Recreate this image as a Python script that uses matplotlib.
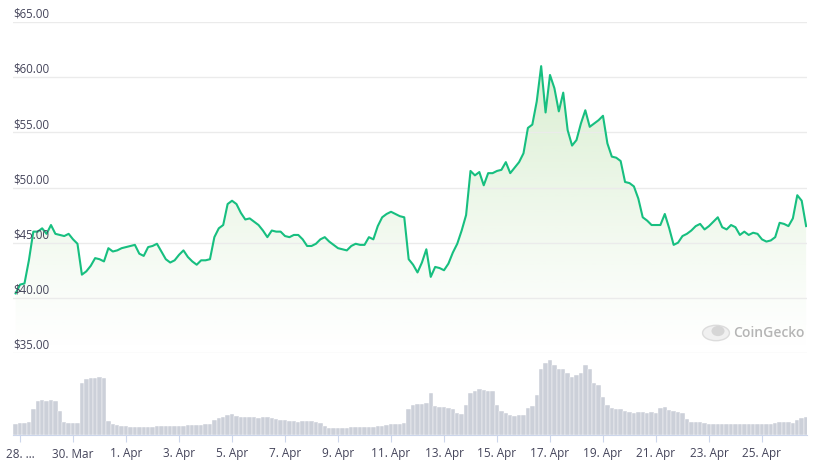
import numpy as np
import pandas as pd
import matplotlib
matplotlib.use("Agg")
import matplotlib.pyplot as plt
import matplotlib.dates as mdates
from matplotlib.patches import PathPatch, Circle, Ellipse

# 4-hourly price (USD) and volume, 27 Mar 20:00 -> 26 Apr 16:00
start = "2024-03-27 20:00"
price = [
    40.4, 41.2, 41.3, 43.4, 46.0, 46.0, 46.3, 45.8, 46.6, 45.8,
    45.7, 45.6, 45.8, 45.3, 44.9, 42.1, 42.4, 42.9, 43.6, 43.5,
    43.3, 44.5, 44.2, 44.3, 44.5, 44.6, 44.7, 44.8, 44.0, 43.8,
    44.6, 44.7, 44.9, 44.2, 43.5, 43.2, 43.4, 43.9, 44.3, 43.7,
    43.3, 43.0, 43.4, 43.4, 43.5, 45.5, 46.3, 46.6, 48.5, 48.8,
    48.5, 47.7, 47.1, 47.2, 46.9, 46.6, 46.1, 45.5, 46.1, 46.0,
    46.0, 45.6, 45.5, 45.7, 45.7, 45.3, 44.7, 44.7, 44.9, 45.3,
    45.5, 45.1, 44.8, 44.5, 44.4, 44.3, 44.7, 44.9, 44.8, 44.8,
    45.5, 45.3, 46.5, 47.3, 47.6, 47.8, 47.6, 47.4, 47.3, 43.5,
    43.0, 42.3, 43.2, 44.4, 41.9, 42.8, 42.7, 42.5, 43.1, 44.1,
    44.9, 46.1, 47.5, 51.5, 51.1, 51.4, 50.2, 51.3, 51.3, 51.5,
    51.6, 52.3, 51.3, 51.8, 52.3, 53.1, 55.4, 55.7, 57.8, 61.0,
    56.8, 60.2, 59.0, 56.9, 58.6, 55.2, 53.8, 54.3, 55.8, 57.0,
    55.5, 55.8, 56.1, 56.5, 54.0, 52.8, 52.7, 52.4, 50.5, 50.4,
    50.1, 49.0, 47.3, 47.0, 46.6, 46.6, 46.6, 47.6, 46.3, 44.8,
    45.0, 45.6, 45.8, 46.1, 46.5, 46.7, 46.2, 46.5, 46.9, 47.3,
    46.4, 46.2, 46.6, 46.4, 45.7, 46.0, 45.7, 45.9, 45.8, 45.3,
    45.1, 45.2, 45.5, 46.8, 46.7, 46.5, 47.2, 49.3, 48.8, 46.5,
]
volume = [
    11, 12, 12, 13, 26, 34, 35, 34, 35, 34,
    24, 13, 12, 12, 12, 52, 56, 57, 57, 58,
    57, 14, 11, 10, 9, 9, 8, 8, 8, 8,
    8, 8, 9, 9, 9, 9, 9, 9, 9, 10,
    10, 10, 10, 11, 11, 15, 17, 18, 20, 21,
    19, 18, 18, 18, 18, 17, 18, 18, 17, 16,
    15, 15, 14, 14, 13, 14, 14, 14, 13, 12,
    9, 7, 7, 7, 7, 7, 8, 8, 8, 8,
    8, 8, 9, 9, 10, 11, 11, 11, 12, 26,
    30, 31, 31, 32, 42, 29, 28, 28, 27, 26,
    22, 21, 30, 42, 44, 46, 45, 44, 44, 30,
    24, 22, 20, 19, 20, 20, 27, 29, 40, 66,
    72, 75, 70, 66, 66, 62, 58, 60, 62, 70,
    66, 52, 50, 38, 30, 27, 26, 26, 24, 23,
    22, 23, 23, 22, 23, 22, 27, 28, 25, 24,
    23, 22, 16, 13, 13, 13, 12, 11, 11, 11,
    11, 11, 11, 11, 11, 11, 11, 11, 11, 11,
    11, 11, 12, 13, 13, 13, 12, 15, 17, 18,
]
tick_dates = ["2024-03-28", "2024-03-30", "2024-04-01", "2024-04-03", "2024-04-05",
              "2024-04-07", "2024-04-09", "2024-04-11", "2024-04-13", "2024-04-15",
              "2024-04-17", "2024-04-19", "2024-04-21", "2024-04-23", "2024-04-25"]
tick_labels = ["28. \u2026", "30. Mar", "1. Apr", "3. Apr", "5. Apr", "7. Apr", "9. Apr",
               "11. Apr", "13. Apr", "15. Apr", "17. Apr", "19. Apr", "21. Apr",
               "23. Apr", "25. Apr"]
price_ticks = [35, 40, 45, 50, 55, 60, 65]

times = pd.date_range(start, periods=len(price), freq="4h")
x = mdates.date2num(times)
price = np.array(price)

plt.rcParams["font.family"] = ["Open Sans", "DejaVu Sans"]
line_color = "#17bf80"
grid_color = "#ebebeb"
label_color = "#44445a"

fig = plt.figure(figsize=(8.13, 4.66), dpi=100)
ax = fig.add_axes([13 / 813, 1 - 353 / 466, 794 / 813, 331 / 466])
axv = fig.add_axes([13 / 813, 1 - 435 / 466, 794 / 813, 82 / 466], sharex=ax)

xlim = (x[0] - 2.4 / 24, x[-1] + 0.8 / 24)

# price line with gradient fill
poly = ax.fill_between(x, price, 35, color="none", lw=0)
grad = np.linspace(0, 1, 256).reshape(-1, 1)
rgba = np.zeros((256, 1, 4))
rgba[..., 0] = 0.55
rgba[..., 1] = 0.80
rgba[..., 2] = 0.45
rgba[..., 3] = (grad[::-1] ** 1.2) * 0.34
img = ax.imshow(rgba, extent=[xlim[0], xlim[1], 35, 62], aspect="auto",
                origin="upper", zorder=1)
clip = PathPatch(poly.get_paths()[0], transform=ax.transData, facecolor="none", edgecolor="none")
ax.add_patch(clip)
img.set_clip_path(clip)
ax.plot(x, price, color=line_color, lw=1.5, zorder=3, solid_joinstyle="round")

ax.set_xlim(*xlim)
ax.set_ylim(35, 65)
ax.set_yticks(price_ticks)
ax.grid(axis="y", color=grid_color, lw=1)
ax.tick_params(axis="y", length=0, labelleft=False)
ax.tick_params(axis="x", length=0, labelbottom=False)
for s in ax.spines.values():
    s.set_visible(False)
for v in price_ticks:
    ax.text(0.0, v + 0.12, f"${v:.2f}", transform=ax.get_yaxis_transform(), ha="left",
            va="bottom", fontsize=8.3, color=label_color)

# watermark
fig.text(733 / 813, 1 - 333 / 466, "CoinGecko", fontsize=10, color="#b5b5b5",
         fontweight="semibold", va="center", ha="left")
fig.add_artist(Circle((716 / 813, 1 - 333 / 466), 0.0165, transform=fig.transFigure,
                      facecolor="#f0f0f0", edgecolor="#dcdcdc", lw=1))
fig.add_artist(Ellipse((718 / 813, 1 - 331 / 466), 0.016, 0.022, transform=fig.transFigure,
                       facecolor="#d6d6d6", edgecolor="none"))

# volume bars
axv.bar(x, volume, width=4 / 24, color="#ccd0d9", edgecolor="white", lw=0.3, align="center")
axv.set_ylim(0, 82)
axv.set_yticks([])
for s in ["top", "left", "right"]:
    axv.spines[s].set_visible(False)
axv.spines["bottom"].set_color("#ccd6eb")
axv.set_xticks(mdates.date2num(pd.to_datetime(tick_dates)))
axv.set_xticklabels(tick_labels)
axv.tick_params(axis="x", length=5, color="#ccd6eb", labelsize=8.5, labelcolor=label_color, pad=4)

fig.savefig("out.png", dpi=100)
